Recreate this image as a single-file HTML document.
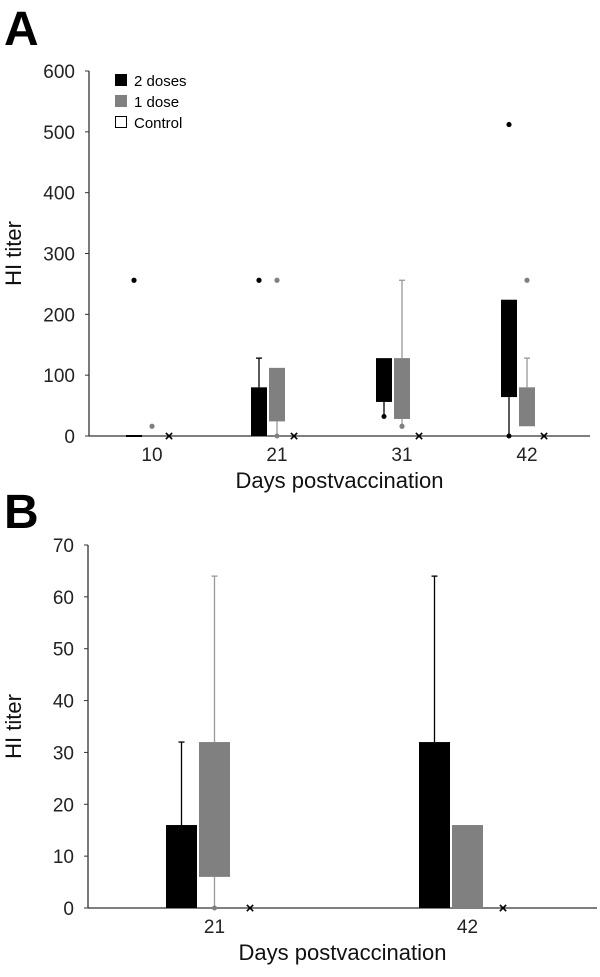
<!DOCTYPE html>
<html><head><meta charset="utf-8"><style>
body{margin:0;background:#fff;}
svg{display:block;font-family:"Liberation Sans",Arial,sans-serif;}
</style></head><body>
<svg id="chart" width="600" height="977" viewBox="0 0 600 977">
<text x="4" y="45" font-size="48" font-weight="bold">A</text>
<text x="4" y="528" font-size="48" font-weight="bold">B</text>
<g id="pa"></g>
<g id="pb"></g>
<g>
 <rect x="115" y="74" width="12" height="12" fill="#000"/>
 <text x="134" y="86" font-size="15">2 doses</text>
 <rect x="115" y="95" width="12" height="12" fill="#808080"/>
 <text x="134" y="107" font-size="15">1 dose</text>
 <rect x="115.5" y="116.5" width="11" height="11" fill="#fff" stroke="#000"/>
 <text x="134" y="128" font-size="15">Control</text>
</g>
</svg>
<script>
const NS="http://www.w3.org/2000/svg";
// Panel A data
const catsA=["10","21","31","42"];
const ticksA=[0,100,200,300,400,500,600];
const twoLowA=[0,0,56,64], twoHighA=[0,80,128,224], twoWLoA=[0,0,32,0], twoWHiA=[0,128,128,224], twoOutA=[256,256,null,512];
const oneLowA=[0,24,28,16], oneHighA=[0,112,128,80], oneWLoA=[0,0,16,16], oneWHiA=[0,112,256,128], oneOutA=[16,256,16,256];
const ctrlA=[0,0,0,0];
// Panel B data
const catsB=["21","42"];
const ticksB=[0,10,20,30,40,50,60,70];
const twoLowB=[0,0], twoHighB=[16,32], twoWLoB=[0,0], twoWHiB=[32,64], twoOutB=[null,null];
const oneLowB=[6,0], oneHighB=[32,16], oneWLoB=[0,0], oneWHiB=[64,16], oneOutB=[null,null];
const ctrlB=[0,0];

function el(tag,attrs,parent){const e=document.createElementNS(NS,tag);for(const k in attrs)e.setAttribute(k,attrs[k]);parent.appendChild(e);return e;}

function draw(g,cfg){
 const y=v=>cfg.y0-(v-cfg.min)/(cfg.max-cfg.min)*(cfg.y0-cfg.yTop);
 const x=i=>cfg.x0+i*cfg.step;
 let a=el("line",{x1:cfg.ax,y1:cfg.yTop,x2:cfg.ax,y2:cfg.y0,stroke:"#333","stroke-width":1.3},g);
 
 
 a=el("line",{x1:cfg.ax,y1:cfg.y0,x2:cfg.xEnd,y2:cfg.y0,stroke:"#333","stroke-width":1.3},g);
 
 
 cfg.ticks.forEach(t=>{
  const l=el("line",{x1:cfg.ax-4,y1:y(t),x2:cfg.ax,y2:y(t),stroke:"#333"},g);
  
  
  const tx=el("text",{x:cfg.ax-14,y:y(t)+7,"font-size":19,"text-anchor":"end",fill:"#222"},g);
  tx.textContent=t;
  
  
 });
 const yt=el("text",{transform:`translate(${cfg.titleX},${(cfg.y0+cfg.yTop)/2}) rotate(-90)`,"font-size":22,"text-anchor":"middle",fill:"#111"},g);
 yt.textContent="HI titer";
 
 
 const xt=el("text",{x:(cfg.ax+cfg.xEnd)/2,y:cfg.y0+52,"font-size":22,"text-anchor":"middle",fill:"#111"},g);
 xt.textContent="Days postvaccination";
 
 
 cfg.cats.forEach((c,i)=>{
  const cx=x(i);
  const lb=el("text",{x:cx+cfg.bw*1.5+2,y:cfg.y0+25,"font-size":19,"text-anchor":"middle",fill:"#222"},g);
  lb.textContent=c;
  
  
  const series=[
   {lo:cfg.twoLow,hi:cfg.twoHigh,wl:cfg.twoWLo,wh:cfg.twoWHi,out:cfg.twoOut,fill:"#000",wc:"#000",off:0,name:"2-doses"},
   {lo:cfg.oneLow,hi:cfg.oneHigh,wl:cfg.oneWLo,wh:cfg.oneWHi,out:cfg.oneOut,fill:"#808080",wc:"#999",off:cfg.bw+2,name:"1-dose"}];
  series.forEach(s=>{
   const bx=cx+s.off, mid=bx+cfg.bw/2;
   if(s.wh[i]>s.hi[i]){const w=el("line",{x1:mid,y1:y(s.hi[i]),x2:mid,y2:y(s.wh[i]),stroke:s.wc,"stroke-width":1.3},g);
    
    const cap=el("line",{x1:mid-3,y1:y(s.wh[i]),x2:mid+3,y2:y(s.wh[i]),stroke:s.wc,"stroke-width":1.3},g);
    }
   if(s.wl[i]<s.lo[i]){const w=el("line",{x1:mid,y1:y(s.lo[i]),x2:mid,y2:y(s.wl[i]),stroke:s.wc,"stroke-width":1.3},g);
    
    const d=el("circle",{cx:mid,cy:y(s.wl[i]),r:2.5,fill:s.fill},g);
    }
   if(s.hi[i]>s.lo[i]){const r=el("rect",{x:bx,y:y(s.hi[i]),width:cfg.bw,height:y(s.lo[i])-y(s.hi[i]),fill:s.fill},g);
    }
   else{const r=el("line",{x1:bx,y1:y(s.lo[i]),x2:bx+cfg.bw,y2:y(s.lo[i]),stroke:s.fill,"stroke-width":2},g);
    }
   if(s.out[i]!=null){const o=el("circle",{cx:mid,cy:y(s.out[i]),r:2.6,fill:s.fill},g);
    }
  });
  const kx=cx+cfg.ctrlOff, ky=y(cfg.ctrl[i]);
  const k=el("text",{x:kx,y:ky+5,"font-size":15,"font-weight":"bold","text-anchor":"middle",fill:"#000"},g);
  k.textContent="×";
  
  
 });
}
draw(document.getElementById("pa"),{cats:catsA,ticks:ticksA,min:0,max:600,y0:436,yTop:71,ax:89,xEnd:590,x0:126,step:125,bw:16,ctrlOff:43,titleX:21,
 twoLow:twoLowA,twoHigh:twoHighA,twoWLo:twoWLoA,twoWHi:twoWHiA,twoOut:twoOutA,
 oneLow:oneLowA,oneHigh:oneHighA,oneWLo:oneWLoA,oneWHi:oneWHiA,oneOut:oneOutA,ctrl:ctrlA});
draw(document.getElementById("pb"),{cats:catsB,ticks:ticksB,min:0,max:70,y0:908,yTop:545,ax:88,xEnd:597,x0:166,step:253,bw:31,ctrlOff:84,titleX:21,
 twoLow:twoLowB,twoHigh:twoHighB,twoWLo:twoWLoB,twoWHi:twoWHiB,twoOut:twoOutB,
 oneLow:oneLowB,oneHigh:oneHighB,oneWLo:oneWLoB,oneWHi:oneWHiB,oneOut:oneOutB,ctrl:ctrlB});
</script>
</body></html>
